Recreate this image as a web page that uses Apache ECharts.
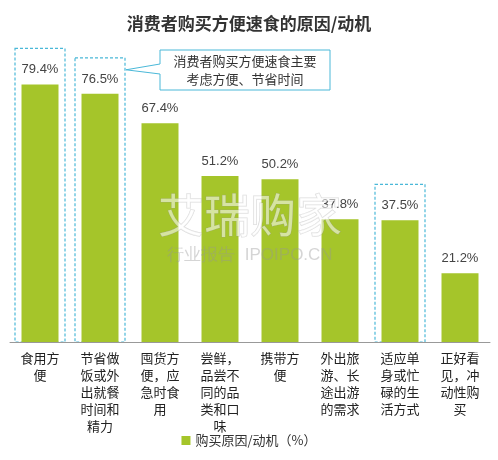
<!DOCTYPE html>
<html><head><meta charset="utf-8">
<script src="https://cdn.jsdelivr.net/npm/echarts@6/dist/echarts.min.js"></script>
<style>body{margin:0}#chartDom{width:498px;height:460px}</style>
</head><body><div id="chartDom"></div>
<script>
// 数据
var categories = ['食用方\n便', '节省做\n饭或外\n出就餐\n时间和\n精力', '囤货方\n便，应\n急时食\n用', '尝鲜，\n品尝不\n同的品\n类和口\n味', '携带方\n便', '外出旅\n游、长\n途出游\n的需求', '适应单\n身或忙\n碌的生\n活方式', '正好看\n见，冲\n动性购\n买'];
var values = [79.4, 76.5, 67.4, 51.2, 50.2, 37.8, 37.5, 21.2];
var highlighted = [0, 1, 6];
var seriesName = '购买原因/动机（%）';

var myChart = echarts.init(document.getElementById('chartDom'));

var option = {
    title: {
        text: '消费者购买方便速食的原因/动机', left: 'center', top: 10,
        textStyle: { fontSize: 17, fontWeight: 'bold', color: '#333', fontFamily: 'Noto Sans CJK SC' }
    },
    legend: {
        bottom: 8, left: 'center', itemWidth: 9, itemHeight: 9, icon: 'rect',
        textStyle: { fontSize: 13, color: '#333', fontFamily: 'Noto Sans CJK SC' }
    },
    grid: { left: 10, right: 8, top: 50, bottom: 118 },
    xAxis: {
        type: 'category', data: categories,
        axisLine: { lineStyle: { color: '#999' } }, axisTick: { show: false },
        axisLabel: { fontSize: 13, color: '#222', lineHeight: 17, interval: 0, margin: 8, fontFamily: 'Noto Sans CJK SC', verticalAlign: 'top' }
    },
    yAxis: { type: 'value', min: 0, max: 90, show: false },
    series: [{
        name: seriesName, type: 'bar', data: values, barWidth: 37,
        itemStyle: { color: '#a5c52a' },
        label: { show: true, position: 'top', formatter: '{c}%', fontSize: 13, color: '#444', distance: 8 }
    }]
};
myChart.setOption(option);

// 虚线框和标注
var g = [];
highlighted.forEach(function (i) {
    var p = myChart.convertToPixel({ seriesIndex: 0 }, [i, values[i]]);
    var b = myChart.convertToPixel({ seriesIndex: 0 }, [i, 0]);
    g.push({ type: 'rect', shape: { x: p[0] - 25, y: p[1] - 36, width: 50, height: b[1] - p[1] + 36 },
        style: { fill: 'none', stroke: '#4ab8d8', lineWidth: 1.2, lineDash: [3, 2] } });
});
var p1 = myChart.convertToPixel({ seriesIndex: 0 }, [1, values[1]]);
g.push({ type: 'polygon', shape: { points: [[160, 50], [330, 50], [330, 90], [160, 90], [160, 74], [p1[0] + 26, p1[1] - 24], [160, 64]] },
    style: { fill: '#fff', stroke: '#4ab8d8', lineWidth: 1 } });
g.push({ type: 'text', x: 245, y: 70, style: { text: '消费者购买方便速食主要\n考虑方便、节省时间', align: 'center', verticalAlign: 'middle', fontSize: 13, lineHeight: 18, fill: '#333', fontFamily: 'Noto Sans CJK SC' } });
g.push({ type: 'text', x: 250, y: 215, z: 100, style: { text: '艾瑞购家', fontSize: 46, fill: 'rgba(255,255,255,0.55)', align: 'center', verticalAlign: 'middle', stroke: 'rgba(150,150,150,0.35)', lineWidth: 1, fontFamily: 'Noto Sans CJK SC' } });
g.push({ type: 'text', x: 250, y: 255, z: 100, style: { text: '行业报告  IPOIPO.CN', fontSize: 17, fill: 'rgba(150,150,150,0.4)', align: 'center', verticalAlign: 'middle' } });
myChart.setOption({ graphic: g });
</script></body></html>
